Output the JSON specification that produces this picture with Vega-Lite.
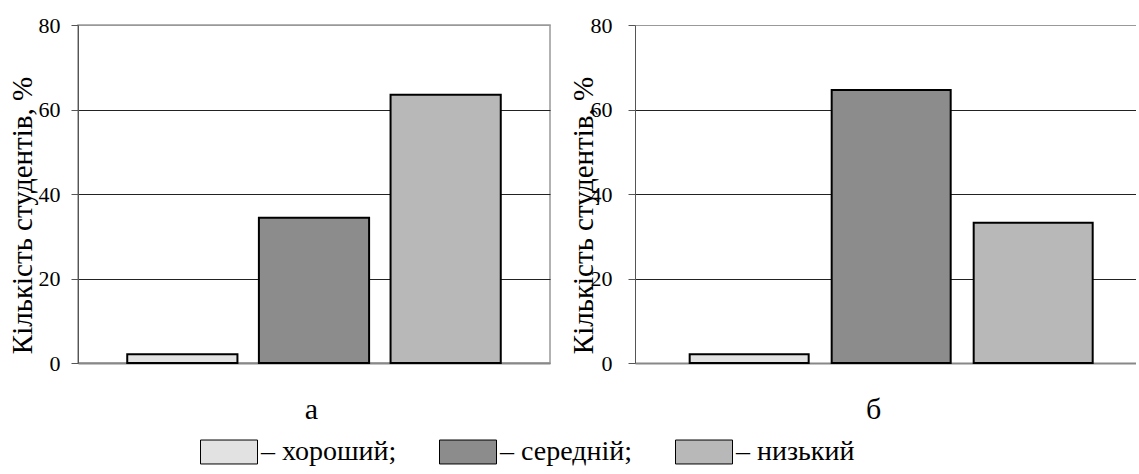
{
  "$schema": "https://vega.github.io/schema/vega-lite/v6.json",
  "background": "white",
  "padding": {"left": 7, "top": 13, "right": 0, "bottom": 0},
  "data": {"values": [
    {"panel": "а", "level": "хороший", "value": 2.1},
    {"panel": "а", "level": "середній", "value": 34.4},
    {"panel": "а", "level": "низький", "value": 63.5},
    {"panel": "б", "level": "хороший", "value": 2.1},
    {"panel": "б", "level": "середній", "value": 64.6},
    {"panel": "б", "level": "низький", "value": 33.2}
  ]},
  "config": {
    "legend": {"labelFont": "Liberation Serif", "labelColor": "black"}
  },
  "bounds": "flush",
  "spacing": 85,
  "resolve": {"scale": {"color": "shared"}},
  "hconcat": [
    {
      "width": 472,
      "height": 338,
      "view": {"stroke": "#999", "strokeWidth": 1.5},
      "transform": [{"filter": "datum.panel == 'а'"}],
      "mark": {"type": "bar", "stroke": "black", "strokeWidth": 2},
      "encoding": {
        "x": {"field": "level", "type": "nominal", "sort": ["хороший", "середній", "низький"],
          "scale": {"paddingInner": 0.163, "paddingOuter": 0.374, "align": 0.5},
          "axis": {"title": "а", "labels": false, "ticks": false, "domainColor": "#888", "domainWidth": 2,
            "titleFont": "Liberation Serif, serif", "titleColor": "black", "titleFontWeight": "normal",
            "titleFontSize": 30, "titleX": 233, "titleY": 55, "titleBaseline": "alphabetic"}},
        "y": {"field": "value", "type": "quantitative", "scale": {"domain": [0, 80]},
          "axis": {"values": [0, 20, 40, 60, 80], "title": "Кількість студентів, %", "titleFontSize": 29,
            "titleFont": "Liberation Serif, serif", "labelFont": "Liberation Serif, serif",
            "titleColor": "black", "labelColor": "black", "titleFontWeight": "normal",
            "titleX": -47, "titleY": 190, "titleBaseline": "alphabetic", "titleAngle": -90,
            "labelFontSize": 22, "labelPadding": 11, "tickSize": 7, "tickColor": "#555", "domainColor": "#555",
            "grid": true, "gridColor": {"condition": {"test": "datum.value === 80 || datum.value === 0", "value": "#999"}, "value": "#222"}}},
        "color": {"field": "level", "type": "nominal",
          "scale": {"domain": ["хороший", "середній", "низький"], "range": ["#e2e2e2", "#8c8c8c", "#b8b8b8"]},
          "legend": {"orient": "none", "legendX": 122, "legendY": 398, "direction": "horizontal", "title": null,
            "symbolType": "M-1,-0.42H1V0.42H-1Z", "symbolSize": 3249, "symbolStrokeColor": "black", "symbolStrokeWidth": 1,
            "symbolOpacity": 1, "labelFontSize": 28, "labelOffset": 3, "columnPadding": 40, "labelLimit": 300,
            "labelExpr": "datum.label == 'низький' ? '– низький' : '– ' + datum.label + ';'"}}
      }
    },
    {
      "width": 501,
      "height": 338,
      "view": {"stroke": null},
      "transform": [{"filter": "datum.panel == 'б'"}],
      "mark": {"type": "bar", "stroke": "black", "strokeWidth": 2},
      "encoding": {
        "x": {"field": "level", "type": "nominal", "sort": ["хороший", "середній", "низький"],
          "scale": {"paddingInner": 0.162, "paddingOuter": 0.345, "align": 0.558},
          "axis": {"title": "б", "labels": false, "ticks": false, "domainColor": "#888", "domainWidth": 2,
            "titleFont": "Liberation Serif, serif", "titleColor": "black", "titleFontWeight": "normal",
            "titleFontSize": 30, "titleX": 238, "titleY": 55, "titleBaseline": "alphabetic"}},
        "y": {"field": "value", "type": "quantitative", "scale": {"domain": [0, 80]},
          "axis": {"values": [0, 20, 40, 60, 80], "title": "Кількість студентів, %", "titleFontSize": 29,
            "titleFont": "Liberation Serif, serif", "labelFont": "Liberation Serif, serif",
            "titleColor": "black", "labelColor": "black", "titleFontWeight": "normal",
            "titleX": -43, "titleY": 190, "titleBaseline": "alphabetic", "titleAngle": -90,
            "labelFontSize": 22, "labelPadding": 16, "tickSize": 7, "tickColor": "#555", "domainColor": "#555",
            "grid": true, "gridColor": {"condition": {"test": "datum.value === 80 || datum.value === 0", "value": "#999"}, "value": "#222"}}},
        "color": {"field": "level", "type": "nominal",
          "scale": {"domain": ["хороший", "середній", "низький"], "range": ["#e2e2e2", "#8c8c8c", "#b8b8b8"]},
          "legend": {"orient": "none", "legendX": 122, "legendY": 398, "direction": "horizontal", "title": null,
            "symbolType": "M-1,-0.42H1V0.42H-1Z", "symbolSize": 3249, "symbolStrokeColor": "black", "symbolStrokeWidth": 1,
            "symbolOpacity": 1, "labelFontSize": 28, "labelOffset": 3, "columnPadding": 40, "labelLimit": 300,
            "labelExpr": "datum.label == 'низький' ? '– низький' : '– ' + datum.label + ';'"}}
      }
    }
  ]
}
